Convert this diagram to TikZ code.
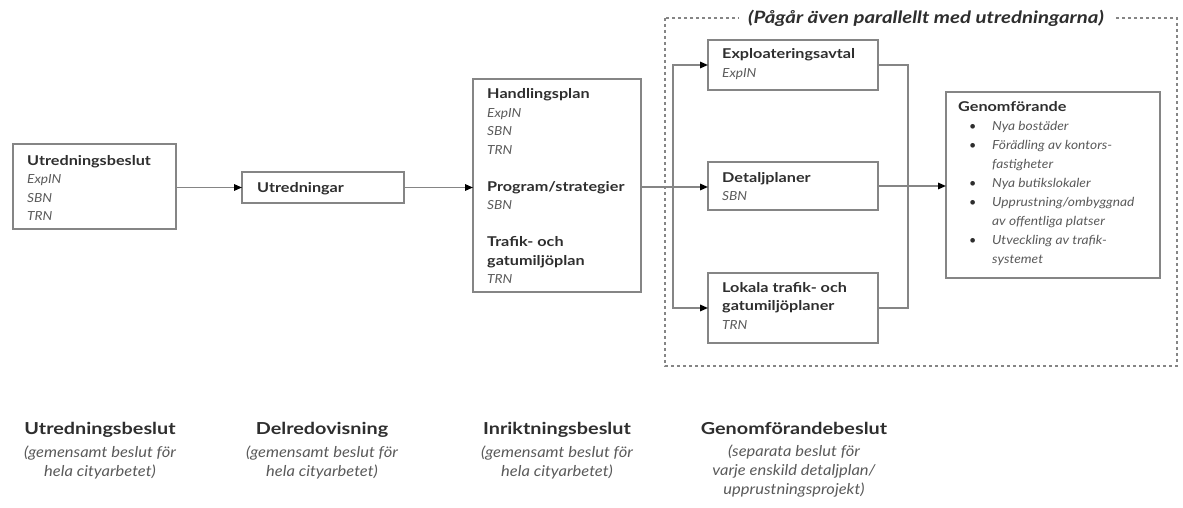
\documentclass[tikz,border=0pt]{standalone}
\usepackage{fontspec}
\setmainfont{Lato}[BoldFeatures={FakeStretch=1.2},BoldItalicFeatures={FakeStretch=1.2},ItalicFeatures={FakeStretch=1.1}]
\usetikzlibrary{arrows.meta}
\definecolor{linegray}{HTML}{858585}
\definecolor{txtdark}{HTML}{2E2E2E}
\definecolor{txtsub}{HTML}{5A5A5A}
\tikzset{
  box/.style={draw=linegray, line width=1.4pt, rectangle, anchor=north west, inner sep=0pt, outer sep=0pt},
  conn/.style={draw=linegray, line width=1.6pt},
  arr/.style={conn, -{Triangle[length=8pt,width=6.5pt,fill=black,color=black]}},
  boxtext/.style={anchor=base west, inner sep=0pt, text=txtdark, font=\fontsize{13.5}{18.5}\selectfont},
  bottomtitle/.style={anchor=base, inner sep=0pt, text=txtdark, font=\fontsize{16.5}{19}\selectfont\bfseries},
  bottombody/.style={anchor=base, inner sep=0pt, text=txtsub, font=\fontsize{15}{19}\selectfont\itshape},
}
\newcommand{\sub}[1]{{\fontsize{12.5}{18.5}\selectfont\color{txtsub}\itshape #1}}
\newcommand{\bul}{\makebox[23pt][l]{\color{txtdark}\upshape\textbullet}}
\begin{document}
\begin{tikzpicture}[x=1pt,y=-1pt]
\useasboundingbox (0,0) rectangle (1183,508);
% dashed region
\draw[linegray, line width=1.3pt, dash pattern=on 3pt off 3pt] (665,18) rectangle (1177,366);
\node[fill=white, inner xsep=9pt, inner ysep=2pt, text=txtdark, font=\fontsize{17}{19}\selectfont\bfseries\itshape] (ptitle) at (926,18) {(Pågår även parallellt med utredningarna)};

% boxes
\node[box, minimum width=163pt, minimum height=85pt] (b1) at (13,144) {};
\node[box, minimum width=162pt, minimum height=31pt] (b2) at (242,172) {};
\node[box, minimum width=168pt, minimum height=213pt] (b3) at (473,79) {};
\node[box, minimum width=170pt, minimum height=50pt] (b4) at (708,40) {};
\node[box, minimum width=170pt, minimum height=48pt] (b5) at (708,162) {};
\node[box, minimum width=170pt, minimum height=70pt] (b6) at (708,273) {};
\node[box, minimum width=214pt, minimum height=186pt] (b7) at (946,92) {};

% box texts
\node[boxtext] (t1) at (27,165) {\begin{tabular}[t]{@{}l@{}}\bfseries Utredningsbeslut\\ \sub{ExpIN}\\ \sub{SBN}\\ \sub{TRN}\end{tabular}};
\node[boxtext] (t2) at (257,192) {\bfseries Utredningar};
\node[boxtext] (t3) at (487,99) {\begin{tabular}[t]{@{}l@{}}\bfseries Handlingsplan\\ \sub{ExpIN}\\ \sub{SBN}\\ \sub{TRN}\\ \\ \bfseries Program/strategier\\ \sub{SBN}\\ \\ \bfseries Trafik- och\\ \bfseries gatumiljöplan\\ \sub{TRN}\end{tabular}};
\node[boxtext] (t4) at (722,59) {\begin{tabular}[t]{@{}l@{}}\bfseries Exploateringsavtal\\ \sub{ExpIN}\end{tabular}};
\node[boxtext] (t5) at (722,182) {\begin{tabular}[t]{@{}l@{}}\bfseries Detaljplaner\\ \sub{SBN}\end{tabular}};
\node[boxtext] (t6) at (722,292) {\begin{tabular}[t]{@{}l@{}}\bfseries Lokala trafik- och\\ \bfseries gatumiljöplaner\\ \sub{TRN}\end{tabular}};
\node[boxtext] (t7) at (958,112) {\bfseries Genomförande};
\node[anchor=base west, inner sep=0pt, text=txtsub, font=\fontsize{12.5}{19}\selectfont\itshape] (t7list) at (969,131) {\begin{tabular}[t]{@{}l@{}}
\bul Nya bostäder\\
\bul Förädling av kontors-\\
\hspace*{23pt}fastigheter\\
\bul Nya butikslokaler\\
\bul Upprustning/ombyggnad\\
\hspace*{23pt}av offentliga platser\\
\bul Utveckling av trafik-\\
\hspace*{23pt}systemet
\end{tabular}};

% connectors
\coordinate (br) at (673,187);
\coordinate (mg) at (908,187);
\draw[arr] (b1.east |- b2.west) -- (b2.west);
\draw[arr] (b2.east) -- (b2.east -| b3.west);
\draw[arr] (b3.east |- br) -- (b5.west |- br);
\draw[arr] (br) |- (b4.west);
\draw[arr] (br) |- (b6.west);
\draw[conn] (b4.east) -| (mg);
\draw[conn] (b6.east) -| (mg);
\draw[arr] (b5.east) -- (b5.east -| b7.west);

% bottom labels
\node[bottomtitle] (l1) at (100,434) {Utredningsbeslut};
\node[bottombody] (l1b) at (100,457) {\begin{tabular}[t]{@{}c@{}}(gemensamt beslut för\\ hela cityarbetet)\end{tabular}};
\node[bottomtitle] (l2) at (322,434) {Delredovisning};
\node[bottombody] (l2b) at (322,457) {\begin{tabular}[t]{@{}c@{}}(gemensamt beslut för\\ hela cityarbetet)\end{tabular}};
\node[bottomtitle] (l3) at (557,434) {Inriktningsbeslut};
\node[bottombody] (l3b) at (557,457) {\begin{tabular}[t]{@{}c@{}}(gemensamt beslut för\\ hela cityarbetet)\end{tabular}};
\node[bottomtitle] (l4) at (794,434) {Genomförandebeslut};
\node[bottombody] (l4b) at (794,456) {\begin{tabular}[t]{@{}c@{}}(separata beslut för\\ varje enskild detaljplan/\\ upprustningsprojekt)\end{tabular}};
\end{tikzpicture}
\end{document}
